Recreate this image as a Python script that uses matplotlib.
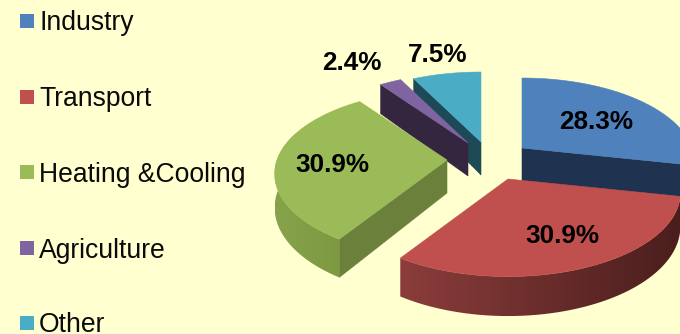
"""Final energy use by sector, drawn as an exploded 3D-look pie with perspective."""
import matplotlib

matplotlib.use("Agg")
import matplotlib.pyplot as plt
import numpy as np
from matplotlib.colors import to_rgb
from matplotlib.patches import Polygon, Rectangle

CATEGORIES = ["Industry", "Transport", "Heating &Cooling", "Agriculture", "Other"]
SHARES = [28.3, 30.9, 30.9, 2.4, 7.5]

BACKGROUND = "#ffffd0"
TOP_COLORS = ["#4f81bd", "#c0504d", "#9bbb59", "#8064a2", "#4bacc6"]
WALL_COLORS = ["#1f3350", "#4a1f1e", "#6a803b", "#35263f", "#1d4a56"]
# rim shading, from the right-hand end of each arc to the left-hand end
RIM_COLORS = [
    ("#1f3350", "#1f3350"),
    ("#4a1e1d", "#8b3d3b"),
    ("#7d9a42", "#86a24a"),
    ("#35263f", "#35263f"),
    ("#1d4a56", "#1d4a56"),
]

# layout, in pixels
APEX = [(522, 148), (508, 179), (447, 160), (468, 143), (481, 142)]
LABEL_POS = [(596, 129), (562, 243), (332, 172), (352, 70), (438, 62)]
LEGEND_Y = [21, 97, 172, 248, 323]
RADIUS = 170
RADIUS_Y = 81.5
DEPTH = 33
PERSPECTIVE = 0.1645
DRAW_ORDER = [4, 3, 0, 2, 1]


def project(apex, theta_deg, extrude=False):
    """Screen position of a rim point; theta runs clockwise from twelve o'clock."""
    t = np.radians(theta_deg)
    x, y = np.sin(t), -np.cos(t)
    w = 1 / (1 - PERSPECTIVE * y)
    return (apex[0] + RADIUS * x * w, apex[1] + RADIUS_Y * y * w + (DEPTH * w if extrude else 0))


def draw_rim(ax, i, lo, hi, z):
    """Outer wall of a slice, shaded left to right with a clipped gradient image."""
    angles = np.linspace(lo, hi, 120)
    top = [project(APEX[i], t) for t in angles]
    bottom = [project(APEX[i], t, True) for t in angles[::-1]]
    outline = Polygon(top + bottom, transform=ax.transData, fc="none", ec="none")
    ax.add_patch(outline)

    xs = [p[0] for p in top + bottom]
    ys = [p[1] for p in top + bottom]
    ramp = np.linspace(0, 1, 256)[None, :, None]
    left, right = np.array(to_rgb(RIM_COLORS[i][1])), np.array(to_rgb(RIM_COLORS[i][0]))
    img = ax.imshow(left * (1 - ramp) + right * ramp, extent=(min(xs), max(xs), max(ys), min(ys)),
                    aspect="auto", interpolation="bilinear", zorder=z)
    img.set_clip_path(outline)


def draw_slice(ax, i, start, end, z):
    apex = APEX[i]
    base = (apex[0], apex[1] + DEPTH)
    wall = WALL_COLORS[i]

    # cut faces that turn towards the viewer
    if np.sin(np.radians(start)) < -1e-6:
        ax.add_patch(Polygon([apex, project(apex, start), project(apex, start, True), base],
                             fc=wall, ec=wall, lw=0.4, zorder=z))
    if np.sin(np.radians(end)) > 1e-6:
        ax.add_patch(Polygon([apex, project(apex, end), project(apex, end, True), base],
                             fc=wall, ec=wall, lw=0.4, zorder=z))

    lo, hi = max(start, 80), min(end, 290)
    if hi > lo:
        draw_rim(ax, i, lo, hi, z + 0.1)

    arc = [project(apex, t) for t in np.linspace(start, end, 120)]
    ax.add_patch(Polygon([apex] + arc, fc=TOP_COLORS[i], ec=TOP_COLORS[i], lw=0.4, zorder=z + 0.2))


fig = plt.figure(figsize=(6.8, 3.34), dpi=100, facecolor=BACKGROUND)
ax = fig.add_axes([0, 0, 1, 1])
ax.axis("off")

edges = np.concatenate([[0], np.cumsum(SHARES)]) / sum(SHARES) * 360
for z, i in enumerate(DRAW_ORDER):
    draw_slice(ax, i, edges[i], edges[i + 1], z + 1)

for i, share in enumerate(SHARES):
    ax.text(LABEL_POS[i][0], LABEL_POS[i][1], f"{share:.1f}%", ha="center", va="baseline",
            fontsize=18.8, fontweight="bold", family="Liberation Sans", color="black", zorder=20)

for name, color, y in zip(CATEGORIES, TOP_COLORS, LEGEND_Y):
    ax.add_patch(Rectangle((20, y - 7), 14, 14, fc=color, ec="none", zorder=20))
    ax.text(39, y + 9.5, name, ha="left", va="baseline", fontsize=19.1,
            family="Liberation Sans", color="#0a0a0a", zorder=20)

ax.set_xlim(0, 680)
ax.set_ylim(334, 0)

fig.savefig("out.png", dpi=100, facecolor=BACKGROUND)
